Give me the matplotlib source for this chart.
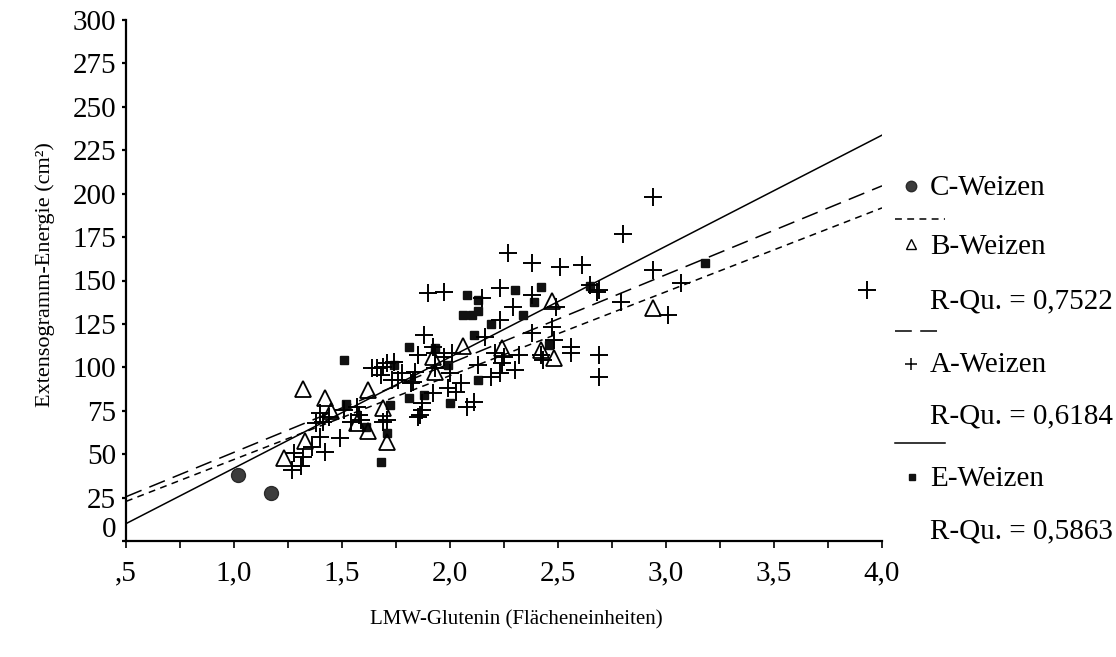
import matplotlib
matplotlib.use("Agg")
import matplotlib.pyplot as plt
from matplotlib.lines import Line2D
from matplotlib.transforms import ScaledTranslation

plt.rcParams['font.family'] = ['Liberation Serif', 'DejaVu Serif']

# ---- data: LMW-Glutenin (area units) vs. extensogram energy (cm²) ----
c_x = [1.02, 1.17]
c_y = [38.0, 27.6]

b_x = [1.23, 1.32, 1.42, 1.45, 1.33, 1.62, 1.57, 1.62, 1.69, 1.71,
       2.06, 2.24, 1.92, 1.93, 2.42, 2.48, 2.47, 2.94]
b_y = [47.8, 87.5, 82.3, 74.8, 57.6, 86.9, 67.9, 63.3, 76.6, 57.0,
       112.3, 111.1, 105.9, 97.3, 110.0, 105.4, 138.2, 134.1]

a_x = [1.40, 1.40, 1.42, 1.49, 1.27, 1.31, 1.28, 1.57, 1.38, 1.36,
       1.58, 1.54, 1.32, 1.66, 1.71, 1.76, 1.82, 1.85, 1.87, 1.85,
       1.51, 1.69, 1.71, 1.44, 1.41, 2.27, 2.38, 2.51, 2.61, 1.90,
       1.97, 2.23, 2.29, 2.38, 2.15, 2.65, 2.69, 2.49, 2.23, 2.16,
       1.88, 2.38, 2.47, 2.48, 2.56, 2.56, 2.69, 2.69, 2.42, 2.32,
       2.25, 2.21, 2.13, 2.30, 2.23, 2.19, 2.11, 2.08, 2.03, 2.00,
       2.01, 1.97, 1.92, 1.93, 1.92, 1.87, 1.86, 1.84, 1.83, 1.85,
       1.78, 1.74, 1.73, 1.69, 1.64, 1.68, 1.59, 1.99, 2.05, 1.93,
       2.94, 2.80, 2.94, 3.07, 2.68, 2.79, 3.01, 3.93, 2.43, 2.24]
a_y = [73.7, 59.9, 51.2, 59.3, 40.9, 43.2, 50.7, 77.1, 67.9, 54.1,
       72.5, 68.5, 48.4, 99.6, 102.5, 92.7, 91.0, 107.1, 75.4, 71.4,
       75.4, 68.5, 69.7, 71.4, 68.5, 165.8, 160.0, 157.7, 158.9, 142.8,
       143.4, 145.7, 134.7, 141.6, 139.9, 147.4, 144.5, 134.7, 127.2, 117.4,
       118.6, 119.7, 123.2, 115.7, 111.7, 108.2, 107.1, 94.4, 107.1, 107.1,
       105.9, 108.2, 101.3, 98.4, 96.7, 94.4, 80.0, 77.1, 85.8, 96.7,
       108.2, 105.9, 111.7, 99.6, 85.2, 79.4, 72.5, 97.3, 91.5, 107.1,
       96.7, 103.1, 92.7, 100.2, 99.6, 95.6, 69.7, 88.1, 91.0, 108.2,
       198.0, 176.7, 156.0, 148.5, 143.4, 137.6, 130.1, 144.5, 104.2, 102.5]

e_x = [1.51, 1.52, 1.61, 1.81, 1.72, 1.71, 1.81, 1.88, 1.68, 2.08,
       2.13, 2.30, 2.42, 2.39, 2.13, 2.10, 2.06, 2.19, 2.34, 2.11,
       1.99, 2.13, 2.00, 2.46, 1.93, 1.74, 3.18, 2.65]
e_y = [104.2, 78.9, 65.6, 111.7, 78.3, 62.2, 82.3, 84.1, 45.5, 141.6,
       138.7, 144.5, 146.2, 137.6, 132.4, 130.1, 130.1, 124.9, 130.1, 118.6,
       101.3, 92.7, 79.4, 112.8, 111.1, 101.3, 160.0, 146.8]

# linear fit lines, evaluated at both ends of the x range
fit_x = [0.5, 4.0]
fit_b = [22.8, 191.8]
fit_a = [25.5, 204.5]
fit_e = [10.0, 233.7]

x_ticks = [0.5, 1.0, 1.5, 2.0, 2.5, 3.0, 3.5, 4.0]
x_labels = [',5', '1,0', '1,5', '2,0', '2,5', '3,0', '3,5', '4,0']
y_ticks = list(range(0, 301, 25))

legend_labels = ['C-Weizen', 'B-Weizen', 'R-Qu. = 0,7522', 'A-Weizen',
                 'R-Qu. = 0,6184', 'E-Weizen', 'R-Qu. = 0,5863']

W, H = 1116, 657
fig = plt.figure(figsize=(W / 100, H / 100), dpi=100)
ax = fig.add_axes([126 / W, 1 - 541 / H, (882 - 126) / W, (541 - 20) / H])

LW = 1.1
DOTTED = (0, (4.5, 3.5))
DASHED = (0, (11, 5.5))

ax.plot(fit_x, fit_b, color='black', lw=LW, linestyle=DOTTED, zorder=2)
ax.plot(fit_x, fit_a, color='black', lw=LW, linestyle=DASHED, zorder=2)
ax.plot(fit_x, fit_e, color='black', lw=LW, linestyle='-', zorder=2)

ax.plot(e_x, e_y, linestyle='none', marker='s', markersize=6,
        markerfacecolor='#111111', markeredgecolor='#111111', zorder=3)
ax.plot(a_x, a_y, linestyle='none', marker='+', markersize=13,
        markeredgewidth=1.4, color='black', zorder=4)
ax.plot(b_x, b_y, linestyle='none', marker='^', markersize=12,
        markerfacecolor='none', markeredgecolor='black',
        markeredgewidth=1.3, zorder=5)
ax.plot(c_x, c_y, linestyle='none', marker='o', markersize=10,
        markerfacecolor='#3c3c3c', markeredgecolor='#2a2a2a', zorder=5)

ax.set_xlim(0.5, 4.0)
ax.set_ylim(0, 300)
ax.set_xticks(x_ticks)
ax.set_xticks([0.75, 1.25, 1.75, 2.25, 2.75, 3.25, 3.75], minor=True)
ax.set_xticklabels(x_labels)
ax.set_yticks(y_ticks)
ax.set_yticklabels([str(v) for v in y_ticks])

for side in ('top', 'right'):
    ax.spines[side].set_visible(False)
for side in ('left', 'bottom'):
    ax.spines[side].set_linewidth(1.6)

ax.tick_params(axis='x', which='both', direction='out', length=5, width=1.2,
               labelsize=21, pad=9)
ax.tick_params(axis='y', which='both', direction='out', length=3, width=1.6,
               labelsize=21, pad=4)

# the zero label sits a little above the x axis
zero_lab = ax.get_yticklabels()[0]
zero_lab.set_transform(zero_lab.get_transform() +
                       ScaledTranslation(0, 14 / 100, fig.dpi_scale_trans))

fig.text(516 / W, 1 - 620 / H, 'LMW-Glutenin (Flächeneinheiten)',
         ha='center', va='center', fontsize=15)
fig.text(45 / W, 1 - 275 / H, 'Extensogramm-Energie (cm²)',
         ha='center', va='center', rotation=90, fontsize=16)

# ---- legend on the right ----
def fx(px):
    return px / W

def fy(py):
    return 1 - py / H

def leg_marker(px, py, **kw):
    fig.add_artist(Line2D([fx(px)], [fy(py)], transform=fig.transFigure,
                          linestyle='none', **kw))

def leg_line(py, ls):
    fig.add_artist(Line2D([fx(895), fx(945)], [fy(py), fy(py)],
                          transform=fig.transFigure, color='black',
                          lw=LW, linestyle=ls))

def leg_text(py, s):
    fig.text(fx(930), fy(py), s, ha='left', va='center', fontsize=21)

leg_marker(911, 186, marker='o', markersize=7.5, markerfacecolor='#3c3c3c',
           markeredgecolor='#2a2a2a')
leg_text(188, legend_labels[0])
leg_line(219, DOTTED)
leg_marker(911, 244, marker='^', markersize=7, markerfacecolor='none',
           markeredgecolor='black', markeredgewidth=1.0)
leg_text(247, legend_labels[1])
leg_text(301, legend_labels[2])
leg_line(331, DASHED)
leg_marker(911, 364, marker='+', markersize=8, markeredgewidth=1.1,
           color='black')
leg_text(365, legend_labels[3])
leg_text(416, legend_labels[4])
leg_line(443, '-')
leg_marker(912, 477, marker='s', markersize=4, markerfacecolor='#111111',
           markeredgecolor='#111111')
leg_text(479, legend_labels[5])
leg_text(531, legend_labels[6])

fig.savefig('out.png', dpi=100)
